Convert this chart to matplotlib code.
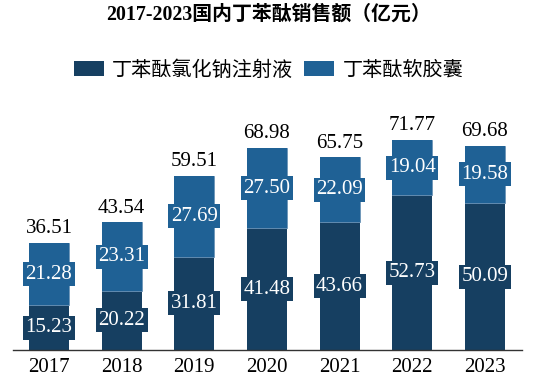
import matplotlib
matplotlib.use("Agg")
import matplotlib.pyplot as plt
from matplotlib.patches import Patch
import numpy as np

plt.rcParams['font.family'] = ['Liberation Serif', 'Noto Sans CJK SC']

years = ['2017', '2018', '2019', '2020', '2021', '2022', '2023']
injection = [15.23, 20.22, 31.81, 41.48, 43.66, 52.73, 50.09]
capsule = [21.28, 23.31, 27.69, 27.50, 22.09, 19.04, 19.58]
totals = [36.51, 43.54, 59.51, 68.98, 65.75, 71.77, 69.68]

dark = '#163f61'
light = '#1f6195'

fig = plt.figure(figsize=(5.37, 3.79), dpi=100)
ax = fig.add_axes([13 / 537, 29 / 379, 509 / 537, 260 / 379])

x = np.arange(len(years))
w = 0.55
ax.bar(x, injection, w, color=dark, edgecolor='none')
ax.bar(x, capsule, w, bottom=injection, color=light, edgecolor='#6d95b8', linewidth=0.6)
ax.bar(x, capsule, w, bottom=injection, color=light, edgecolor='none')

for i in range(len(years)):
    ax.text(x[i], injection[i] * 0.5, f'{injection[i]:.2f}', ha='center', va='center',
            color='white', fontsize=15,
            bbox=dict(boxstyle='square,pad=0.12', facecolor=dark, edgecolor='none'))
    ax.text(x[i], injection[i] + capsule[i] * 0.5, f'{capsule[i]:.2f}', ha='center', va='center',
            color='white', fontsize=15,
            bbox=dict(boxstyle='square,pad=0.12', facecolor=light, edgecolor='none'))
    ax.text(x[i], totals[i] + 1.6, f'{totals[i]:.2f}', ha='center', va='bottom',
            color='black', fontsize=15)

ax.set_xlim(-0.495, 6.51)
ax.set_ylim(0, 88.7)
ax.set_xticks(x)
ax.set_xticklabels(years, fontsize=15)
ax.tick_params(axis='x', length=0, pad=6)
ax.set_yticks([])
for s in ['top', 'right', 'left']:
    ax.spines[s].set_visible(False)
ax.spines['bottom'].set_color('#333333')
ax.spines['bottom'].set_linewidth(1.0)

fig.text(0.5, 1 - 15 / 379, '2017-2023国内丁苯酞销售额（亿元）', ha='center', va='center',
         fontsize=14.3, fontweight='bold')

handles = [Patch(facecolor=dark), Patch(facecolor=light)]
fig.legend(handles, ['丁苯酞氯化钠注射液', '丁苯酞软胶囊'], loc='center',
           bbox_to_anchor=(0.5, 1 - 70 / 379), ncol=2, frameon=False,
           prop={'family': ['Noto Sans CJK SC'], 'size': 14.5},
           handlelength=1.5, handleheight=0.7, handletextpad=0.4, columnspacing=0.55)

fig.savefig('out.png', dpi=100)
